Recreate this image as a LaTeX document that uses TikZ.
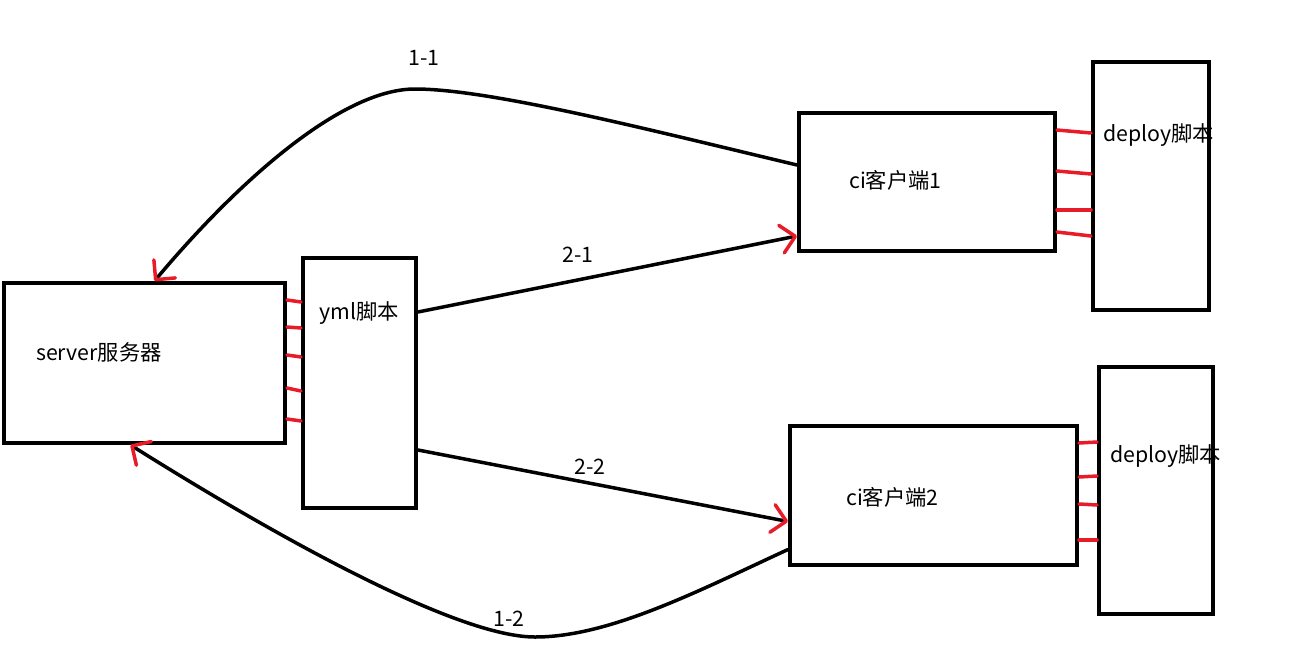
\documentclass[tikz,border=0pt]{standalone}
\usepackage{fontspec}
\newfontfamily\cjk{Noto Sans CJK SC}
\usetikzlibrary{arrows.meta}
\definecolor{tickred}{RGB}{232,28,40}

\begin{document}
\begin{tikzpicture}[
  x=1pt, y=-1pt,
  font=\cjk\fontsize{21.3}{25}\selectfont,
  >={Straight Barb[color=tickred, length=14pt, width=28pt, line width=3.5pt, round]},
  box/.style={rectangle, draw=black, line width=4pt, inner sep=0pt},
  txt/.style={anchor=west, inner sep=0pt},
  tick/.style={draw=tickred, line width=3.5pt, line cap=round},
  flow/.style={->, line width=3.5pt, line cap=round},
]
\useasboundingbox (0,0) rectangle (1299,657);

% ===== boxes =====
\node (server)  [box, minimum width=281pt, minimum height=160pt] at (144.5,363) {};
\node (yml)     [box, minimum width=113pt, minimum height=250pt] at (359.5,383) {};
\node (ci1)     [box, minimum width=256pt, minimum height=138pt] at (927,182) {};
\node (deploy1) [box, minimum width=116pt, minimum height=248pt] at (1151,186) {};
\node (ci2)     [box, minimum width=287pt, minimum height=139pt] at (933.5,495.5) {};
\node (deploy2) [box, minimum width=114pt, minimum height=247pt] at (1156,490.5) {};

% ===== box texts =====
\node (serverTxt)  [txt] at (36,352)   {server服务器};
\node (ymlTxt)     [txt] at (319,313)  {yml脚本};
\node (ci1Txt)     [txt] at (849,180)  {ci客户端1};
\node (deploy1Txt) [txt] at (1103,135) {deploy脚本};
\node (ci2Txt)     [txt] at (846,497)  {ci客户端2};
\node (deploy2Txt) [txt] at (1110,456) {deploy脚本};

% ===== red ticks between touching boxes =====
\foreach \a/\b in {300/302, 327/328, 355/357, 388/391, 419/421}{
  \draw[tick] (server.east |- 0,\a) -- (yml.west |- 0,\b);
}
\foreach \a/\b in {130/133, 171/174, 210/210, 232/236}{
  \draw[tick] (ci1.east |- 0,\a) -- (deploy1.west |- 0,\b);
}
\foreach \a/\b in {443/442, 477/476, 504/505, 540/540}{
  \draw[tick] (ci2.east |- 0,\a) -- (deploy2.west |- 0,\b);
}

% ===== 1-1: ci client 1 back to server =====
\coordinate (top11) at (415,89);
\draw[flow] ([yshift=17pt]ci1.west) .. controls (650,130) and (490,89) .. (top11)
  .. controls (340,89) and (235,185) .. ([xshift=10pt]server.north);
\node (lab11) at (424,58) {1-1};

% ===== 2-1 / 2-2: yml to ci clients =====
\draw[flow] ([yshift=71pt]yml.east) -- ([yshift=-54pt]ci1.west);
\node (lab21) at (578,255) {2-1};
\draw[flow] ([yshift=-67pt]yml.east) -- ([yshift=-26pt]ci2.west);
\node (lab22) at (590,467) {2-2};

% ===== 1-2: ci client 2 back to server =====
\coordinate (bot12) at (535,637);
\draw[flow] ([yshift=-54pt]ci2.west) .. controls (700,590) and (610,637) .. (bot12)
  .. controls (450,637) and (250,520) .. ([xshift=-14pt]server.south);
\node (lab12) at (509,619) {1-2};
\end{tikzpicture}
\end{document}
